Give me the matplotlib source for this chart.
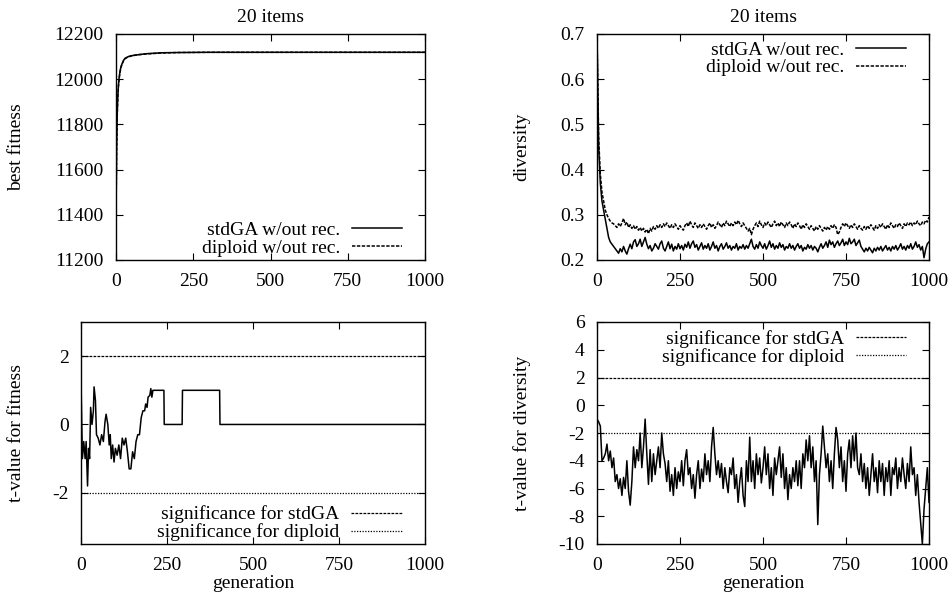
import numpy as np
import matplotlib
matplotlib.use("Agg")
import matplotlib.pyplot as plt

plt.rcParams['font.family'] = ['Liberation Serif', 'DejaVu Serif']
plt.rcParams['font.size'] = 14
plt.rcParams['axes.unicode_minus'] = False

# ---------------- data ----------------
# best fitness (top-left)
fit_gen = [0, 2, 4, 6, 8, 10, 13, 16, 20, 25, 30, 40, 50, 70, 100, 150, 200, 300, 500, 1000]
fit_std = [11380, 11700, 11850, 11930, 11975, 12005, 12035, 12055, 12070, 12085, 12093, 12100, 12104, 12108, 12113, 12117, 12118, 12119, 12119, 12119]
fit_dip = [11380, 11680, 11840, 11925, 11970, 12000, 12030, 12052, 12068, 12083, 12092, 12099, 12103, 12108, 12112, 12116, 12118, 12119, 12119, 12119]

# diversity (top-right), sampled every 5 generations
div_gen = list(range(0, 1001, 5))
div_std = [
    0.700, 0.450, 0.370, 0.330, 0.310, 0.290, 0.270, 0.250, 0.240, 0.235,
    0.230, 0.225, 0.220, 0.215, 0.225, 0.218, 0.230, 0.220, 0.213, 0.225,
    0.235, 0.225, 0.240, 0.245, 0.230, 0.236, 0.246, 0.230, 0.240, 0.250,
    0.235, 0.225, 0.232, 0.220, 0.226, 0.236, 0.230, 0.224, 0.236, 0.242,
    0.226, 0.220, 0.230, 0.240, 0.225, 0.235, 0.220, 0.230, 0.224, 0.236,
    0.225, 0.232, 0.222, 0.235, 0.228, 0.240, 0.226, 0.236, 0.242, 0.228,
    0.234, 0.222, 0.230, 0.238, 0.224, 0.232, 0.226, 0.236, 0.222, 0.230,
    0.240, 0.226, 0.232, 0.220, 0.230, 0.236, 0.224, 0.230, 0.238, 0.226,
    0.232, 0.222, 0.230, 0.226, 0.236, 0.222, 0.230, 0.226, 0.234, 0.224,
    0.232, 0.226, 0.236, 0.246, 0.230, 0.224, 0.234, 0.226, 0.240, 0.232,
    0.226, 0.236, 0.224, 0.232, 0.242, 0.228, 0.236, 0.224, 0.232, 0.226,
    0.238, 0.228, 0.234, 0.222, 0.230, 0.226, 0.236, 0.226, 0.232, 0.222,
    0.230, 0.236, 0.226, 0.232, 0.220, 0.228, 0.224, 0.234, 0.226, 0.232,
    0.222, 0.230, 0.226, 0.218, 0.228, 0.236, 0.226, 0.232, 0.240, 0.228,
    0.244, 0.234, 0.240, 0.228, 0.236, 0.242, 0.232, 0.238, 0.246, 0.232,
    0.240, 0.234, 0.248, 0.236, 0.240, 0.246, 0.232, 0.238, 0.244, 0.230,
    0.224, 0.218, 0.226, 0.220, 0.228, 0.222, 0.216, 0.226, 0.220, 0.228,
    0.222, 0.230, 0.220, 0.226, 0.232, 0.222, 0.228, 0.220, 0.230, 0.224,
    0.232, 0.222, 0.228, 0.236, 0.224, 0.230, 0.222, 0.232, 0.226, 0.236,
    0.224, 0.230, 0.240, 0.228, 0.234, 0.222, 0.230, 0.205, 0.224, 0.236,
    0.240,
]
div_dip = [
    0.700, 0.470, 0.390, 0.350, 0.330, 0.310, 0.300, 0.292, 0.286, 0.282,
    0.280, 0.276, 0.272, 0.280, 0.274, 0.282, 0.292, 0.278, 0.284, 0.272,
    0.278, 0.270, 0.276, 0.268, 0.274, 0.266, 0.272, 0.264, 0.270, 0.262,
    0.268, 0.258, 0.270, 0.264, 0.274, 0.268, 0.276, 0.270, 0.278, 0.272,
    0.280, 0.274, 0.282, 0.276, 0.270, 0.278, 0.272, 0.280, 0.274, 0.268,
    0.276, 0.270, 0.266, 0.276, 0.282, 0.274, 0.286, 0.278, 0.272, 0.282,
    0.276, 0.270, 0.278, 0.272, 0.280, 0.274, 0.268, 0.276, 0.282, 0.272,
    0.278, 0.270, 0.276, 0.284, 0.278, 0.272, 0.282, 0.276, 0.286, 0.280,
    0.274, 0.282, 0.276, 0.284, 0.278, 0.288, 0.280, 0.274, 0.282, 0.276,
    0.270, 0.264, 0.270, 0.256, 0.268, 0.276, 0.282, 0.274, 0.286, 0.278,
    0.272, 0.282, 0.276, 0.284, 0.278, 0.272, 0.280, 0.286, 0.276, 0.282,
    0.274, 0.284, 0.278, 0.272, 0.282, 0.276, 0.284, 0.278, 0.270, 0.280,
    0.274, 0.282, 0.276, 0.268, 0.278, 0.272, 0.280, 0.274, 0.268, 0.276,
    0.270, 0.264, 0.274, 0.268, 0.276, 0.270, 0.264, 0.272, 0.266, 0.274,
    0.268, 0.276, 0.270, 0.278, 0.272, 0.256, 0.262, 0.272, 0.280, 0.274,
    0.282, 0.276, 0.270, 0.278, 0.272, 0.280, 0.274, 0.268, 0.276, 0.270,
    0.266, 0.274, 0.268, 0.276, 0.270, 0.278, 0.272, 0.266, 0.276, 0.270,
    0.278, 0.272, 0.280, 0.274, 0.268, 0.278, 0.272, 0.282, 0.276, 0.270,
    0.278, 0.274, 0.282, 0.276, 0.270, 0.280, 0.274, 0.282, 0.278, 0.284,
    0.276, 0.282, 0.278, 0.286, 0.280, 0.276, 0.284, 0.280, 0.288, 0.284,
    0.295,
]

# t-value for fitness (bottom-left)
tf_gen = [0, 4, 8, 12, 15, 19, 22, 25, 28, 32, 36, 38, 42, 45, 50, 55, 60, 65, 70, 73,
          78, 82, 85, 88, 92, 96, 100, 105, 110, 115, 120, 125, 130, 135, 140, 145, 150, 155, 160, 165,
          170, 175, 180, 185, 188, 192, 195, 200, 203, 206, 209, 212, 241, 242, 294, 295, 403, 404, 1000]
tf_val = [1.3, -1.0, -0.5, -1.0, -0.5, -1.8, -0.7, -1.0, 0.5, 0.0, 0.4, 1.1, 0.7, -0.3, -0.4, -0.6, -0.3, -0.5, 0.1, 0.3,
          0.0, -0.6, -0.3, -1.0, -0.6, -1.1, -0.7, -0.9, -0.6, -1.0, -0.4, -0.6, -0.4, -0.8, -1.3, -1.3, -0.8, -1.0, -0.5, -0.3,
          -0.3, 0.2, 0.4, 0.4, 0.6, 0.5, 0.8, 0.85, 1.05, 0.8, 1.0, 1.0, 1.0, 0.0, 0.0, 1.0, 1.0, 0.0, 0.0]

# t-value for diversity (bottom-right), every 5 generations
td_gen = list(range(0, 1001, 5))
td_val = [
    -1.0, -1.2, -1.5, -4.0, -3.8, -3.5, -2.8, -4.0, -3.3, -4.5,
    -3.8, -5.5, -5.0, -6.0, -5.3, -6.5, -5.2, -6.0, -4.0, -6.2,
    -7.2, -5.5, -3.0, -4.5, -3.2, -4.0, -2.0, -4.5, -3.0, -1.0,
    -3.5, -5.7, -3.2, -5.5, -3.5, -5.0, -4.0, -3.0, -4.5, -2.0,
    -3.5, -4.2, -5.5, -4.0, -6.2, -5.0, -6.5, -4.5, -6.0, -4.8,
    -5.5, -4.0, -5.8, -4.0, -3.2, -5.0, -4.5, -6.0, -5.0, -6.7,
    -5.0, -4.0, -6.0, -4.6, -5.5, -3.5, -5.0, -4.0, -5.5, -3.0,
    -1.6, -3.5, -5.0, -4.0, -5.2, -4.2, -6.0, -4.5, -5.5, -6.3,
    -4.5, -5.0, -3.8, -6.0, -5.0, -7.0, -5.5, -4.5, -6.5, -7.3,
    -4.0, -5.5, -2.3, -5.5, -4.0, -6.0, -3.5, -5.0, -3.8, -5.6,
    -4.5, -3.0, -5.0, -3.5, -6.0, -4.5, -6.5, -3.8, -5.0, -4.0,
    -3.0, -5.2, -3.5, -6.0, -4.5, -6.8, -5.0, -6.0, -4.5, -5.5,
    -4.0, -5.8, -4.0, -6.0, -3.5, -4.5, -2.5, -4.0, -2.2, -4.5,
    -3.0, -5.5, -4.0, -8.6, -5.0, -3.5, -1.5, -3.0, -4.5, -3.5,
    -5.5, -4.0, -6.0, -3.5, -1.6, -2.5, -4.5, -3.0, -5.5, -4.0,
    -6.2, -3.5, -2.5, -4.5, -2.2, -4.0, -2.0, -4.5, -5.0, -3.5,
    -5.5, -4.2, -6.0, -4.5, -6.5, -5.0, -3.5, -5.5, -4.5, -6.3,
    -4.0, -5.5, -4.2, -6.5, -4.5, -5.5, -4.0, -6.5, -4.5, -5.0,
    -3.8, -6.0, -4.5, -5.5, -3.8, -5.0, -6.0, -4.2, -5.5, -3.0,
    -5.0, -4.5, -6.5, -5.0, -7.0, -8.5, -10.0, -7.5, -6.0, -4.5,
    -7.0,
]

sig_std = 2.0
sig_dip = -2.0

xticks = [0, 250, 500, 750, 1000]

# ---------------- figure ----------------
W, H = 951, 593
FS = 14
fig = plt.figure(figsize=(W / 100, H / 100), dpi=100)

def px_axes(l, t, r, b):
    return fig.add_axes([l / W, (H - b) / H, (r - l) / W, (b - t) / H])

def style(ax):
    ax.tick_params(direction='in', top=True, right=True, length=5, width=0.8,
                   labelsize=FS)
    ax.tick_params(axis='x', pad=9)
    ax.tick_params(axis='y', pad=9)
    for s in ax.spines.values():
        s.set_linewidth(1.0)
    ax.set_xlim(0, 1000)
    ax.set_xticks(xticks)

def legend(ax, loc, anchor):
    ax.legend(loc=loc, bbox_to_anchor=anchor, frameon=False, markerfirst=False,
              fontsize=FS, handlelength=2.6, borderaxespad=0, borderpad=0,
              labelspacing=0.0, handletextpad=0.6)

lw = 1.1
dash_std = (0, (2.2, 1.0))
dot_dip = (0, (1.0, 1.2))

# top-left
ax1 = px_axes(116, 34, 425, 260)
style(ax1)
ax1.plot(fit_gen, fit_std, color='black', lw=lw, label='stdGA w/out rec.')
ax1.plot(fit_gen, fit_dip, color='black', lw=lw, ls=dash_std, label='diploid w/out rec.')
ax1.set_ylim(11200, 12200)
ax1.set_yticks([11200, 11400, 11600, 11800, 12000, 12200])
ax1.set_title('20 items', fontsize=FS, pad=9)
legend(ax1, 'lower right', (0.926, 0.015))
fig.text(17 / W, 1 - 147 / H, 'best fitness', rotation=90, ha='center', va='center', fontsize=FS)

# top-right
ax2 = px_axes(597, 34, 929, 260)
style(ax2)
ax2.plot(div_gen, div_std, color='black', lw=lw, label='stdGA w/out rec.')
ax2.plot(div_gen, div_dip, color='black', lw=lw, ls=dash_std, label='diploid w/out rec.')
ax2.set_ylim(0.2, 0.7)
ax2.set_yticks([0.2, 0.3, 0.4, 0.5, 0.6, 0.7])
ax2.set_title('20 items', fontsize=FS, pad=9)
legend(ax2, 'upper right', (0.931, 0.968))
fig.text(522 / W, 1 - 147 / H, 'diversity', rotation=90, ha='center', va='center', fontsize=FS)

# bottom-left
ax3 = px_axes(81, 322, 425, 544)
style(ax3)
ax3.plot(tf_gen, tf_val, color='black', lw=lw)
ax3.axhline(sig_std, color='black', lw=0.9, ls=dash_std, label='significance for stdGA')
ax3.axhline(sig_dip, color='black', lw=0.9, ls=dot_dip, label='significance for diploid')
ax3.set_ylim(-3.5, 3)
ax3.set_yticks([-2, 0, 2])
ax3.set_xlabel('generation', fontsize=FS, labelpad=1)
legend(ax3, 'lower right', (0.933, 0.012))
fig.text(17 / W, 1 - 433 / H, 't-value for fitness', rotation=90, ha='center', va='center', fontsize=FS)

# bottom-right
ax4 = px_axes(597, 322, 929, 544)
style(ax4)
ax4.plot(td_gen, td_val, color='black', lw=lw)
ax4.axhline(sig_std, color='black', lw=0.9, ls=dash_std, label='significance for stdGA')
ax4.axhline(sig_dip, color='black', lw=0.9, ls=dot_dip, label='significance for diploid')
ax4.set_ylim(-10, 6)
ax4.set_yticks([-10, -8, -6, -4, -2, 0, 2, 4, 6])
ax4.set_xlabel('generation', fontsize=FS, labelpad=1)
legend(ax4, 'upper right', (0.931, 0.965))
fig.text(522 / W, 1 - 433 / H, 't-value for diversity', rotation=90, ha='center', va='center', fontsize=FS)

fig.savefig('out.png', dpi=100)
